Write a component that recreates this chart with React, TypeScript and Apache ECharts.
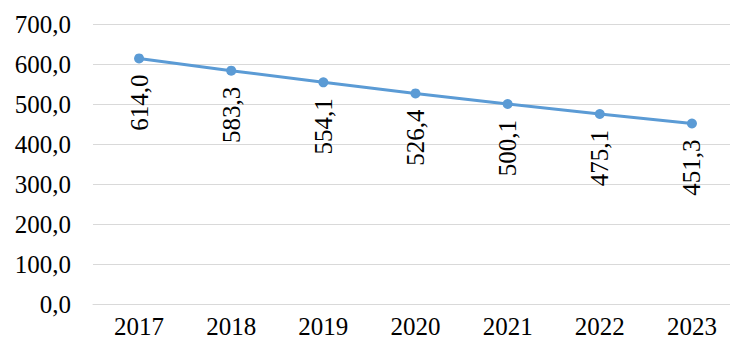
import React, { useEffect, useRef } from "react";
import * as echarts from "echarts";

const categories = ["2017", "2018", "2019", "2020", "2021", "2022", "2023"];
const values = [614.0, 583.3, 554.1, 526.4, 500.1, 475.1, 451.3];
const yTicks = [0, 100, 200, 300, 400, 500, 600, 700];

const FONT_SHORTHAND = "normal 25px Liberation Serif";
const fmt = (v: number) => v.toFixed(1).replace(".", ",");

export default function App() {
  const ref = useRef<HTMLDivElement>(null);
  useEffect(() => {
    const chart = echarts.init(ref.current!, null, { renderer: "svg" });
    chart.setOption({
      animation: false,
      grid: { left: 93, top: 24, bottom: 41, width: 648 },
      xAxis: {
        type: "category",
        data: categories,
        axisLine: { lineStyle: { color: "#D9D9D9", width: 1 } },
        axisTick: { show: false },
        axisLabel: { show: false },
      },
      yAxis: {
        type: "value",
        min: 0,
        max: 700,
        interval: 100,
        axisLine: { show: false },
        axisTick: { show: false },
        axisLabel: { show: false },
        splitLine: { lineStyle: { color: "#D9D9D9", width: 1 } },
      },
      series: [
        {
          type: "line",
          data: values,
          lineStyle: { color: "#5B9BD5", width: 3 },
          itemStyle: { color: "#5B9BD5" },
          symbol: "circle",
          symbolSize: 10,
        },
      ],
    });

    const toPx = (pt: [number, number]) =>
      chart.convertToPixel({ gridIndex: 0 }, pt) as unknown as number[];
    const texts: any[] = [];

    values.forEach((v, i) => {
      const p = toPx([i, v]);
      texts.push({
        type: "text",
        silent: true,
        x: p[0],
        y: p[1] + 16,
        rotation: Math.PI / 2,
        style: { text: fmt(v), font: FONT_SHORTHAND, fill: "#000", align: "right", verticalAlign: "middle" },
      });
    });

    categories.forEach((c, i) => {
      const p = toPx([i, 0]);
      texts.push({
        type: "text",
        silent: true,
        x: p[0],
        y: p[1] + 10,
        style: { text: c, font: FONT_SHORTHAND, fill: "#000", align: "center", verticalAlign: "top" },
      });
    });

    const band = toPx([1, 0])[0] - toPx([0, 0])[0];
    yTicks.forEach((t) => {
      const p = toPx([0, t]);
      texts.push({
        type: "text",
        silent: true,
        x: p[0] - band / 2 - 22,
        y: p[1],
        style: { text: fmt(t), font: FONT_SHORTHAND, fill: "#000", align: "right", verticalAlign: "middle" },
      });
    });

    chart.setOption({ graphic: texts });
    return () => chart.dispose();
  }, []);
  return <div ref={ref} style={{ width: 738, height: 345, margin: -8 }} />;
}
